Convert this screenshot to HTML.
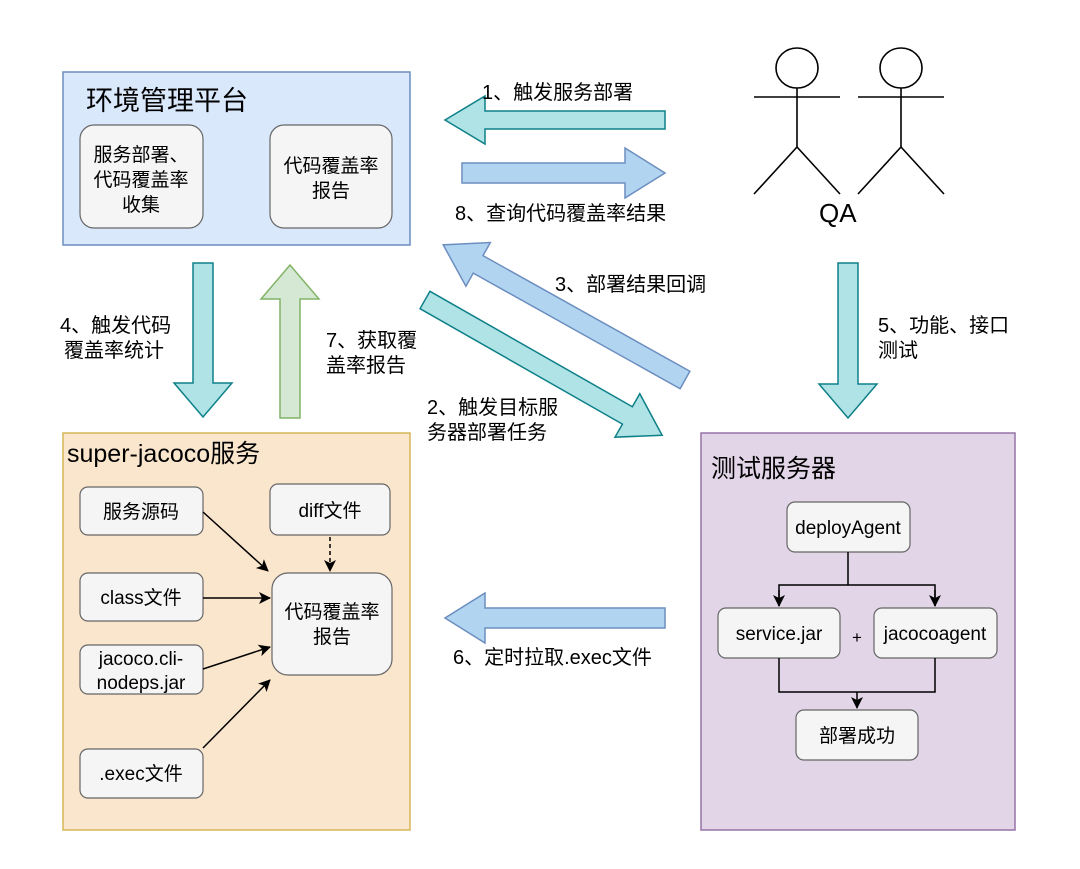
<!DOCTYPE html>
<html><head><meta charset="utf-8"><style>
html,body{margin:0;padding:0;background:#fff;}
svg text{font-family:"Liberation Sans","Noto Sans CJK SC",sans-serif;fill:#000;}
</style></head><body>
<svg width="1080" height="864" viewBox="0 0 1080 864" xmlns="http://www.w3.org/2000/svg">
<defs>
<marker id="ah" markerWidth="12" markerHeight="12" refX="11" refY="6" orient="auto" markerUnits="userSpaceOnUse"><path d="M0,0 L12,6 L0,12 L3,6 z" fill="#000"/></marker>
</defs>
<!-- top box -->
<rect x="63" y="72" width="347" height="173" fill="#dae8fc" stroke="#6c8ebf" stroke-width="1.5"/>
<text x="86" y="110" font-size="27">环境管理平台</text>
<rect x="80" y="125" width="123" height="103" rx="14" fill="#f5f5f5" stroke="#666" stroke-width="1.2"/>
<text font-size="19" text-anchor="middle"><tspan x="141" y="161">服务部署、</tspan><tspan x="141" y="186">代码覆盖率</tspan><tspan x="141" y="211">收集</tspan></text>
<rect x="270" y="125" width="122" height="103" rx="14" fill="#f5f5f5" stroke="#666" stroke-width="1.2"/>
<text font-size="19" text-anchor="middle"><tspan x="331" y="172">代码覆盖率</tspan><tspan x="331" y="197">报告</tspan></text>

<!-- arrows -->
<g stroke-width="1.5" stroke-linejoin="miter">
<g transform="translate(665,120) rotate(180)"><polygon points="0,-9 180,-9 180,-24 220,0 180,24 180,9 0,9" fill="#b0e3e6" stroke="#0e8088"/></g>
<g transform="translate(462,173) rotate(0)"><polygon points="0,-10 163,-10 163,-25 203,0 163,25 163,10 0,10" fill="#b1d5f0" stroke="#6c8ebf"/></g>
<g transform="translate(685,380) rotate(209.2)"><polygon points="0,-10 237,-10 237,-25 277,0 237,25 237,10 0,10" fill="#b1d5f0" stroke="#6c8ebf"/></g>
<g transform="translate(425,300) rotate(29.7)"><polygon points="0,-10 233,-10 233,-25 273,0 233,25 233,10 0,10" fill="#b0e3e6" stroke="#0e8088"/></g>
<g transform="translate(203,263) rotate(90)"><polygon points="0,-10 120,-10 120,-29 154,0 120,29 120,10 0,10" fill="#b0e3e6" stroke="#0e8088"/></g>
<g transform="translate(290,418) rotate(-90)"><polygon points="0,-10 119,-10 119,-29 153,0 119,29 119,10 0,10" fill="#d5e8d4" stroke="#82b366"/></g>
<g transform="translate(848,263) rotate(90)"><polygon points="0,-10 121,-10 121,-29 155,0 121,29 121,10 0,10" fill="#b0e3e6" stroke="#0e8088"/></g>
<g transform="translate(665,618) rotate(180)"><polygon points="0,-10 180,-10 180,-25 220,0 180,25 180,10 0,10" fill="#b1d5f0" stroke="#6c8ebf"/></g>
</g>

<!-- labels -->
<g font-size="20">
<text x="482" y="99">1、触发服务部署</text>
<text x="455" y="220">8、查询代码覆盖率结果</text>
<text x="555" y="291">3、部署结果回调</text>
<text><tspan x="427" y="414">2、触发目标服</tspan><tspan x="427" y="439">务器部署任务</tspan></text>
<text><tspan x="60" y="332">4、触发代码</tspan><tspan x="64" y="357">覆盖率统计</tspan></text>
<text><tspan x="326" y="347">7、获取覆</tspan><tspan x="326" y="372">盖率报告</tspan></text>
<text><tspan x="878" y="332">5、功能、接口</tspan><tspan x="878" y="357">测试</tspan></text>
<text x="453" y="664">6、定时拉取.exec文件</text>
</g>

<!-- QA -->
<g stroke="#000" stroke-width="1.6" fill="none">
<ellipse cx="797" cy="68" rx="21" ry="20" fill="#fff"/>
<line x1="797" y1="88" x2="797" y2="147"/><line x1="754" y1="97" x2="840" y2="97"/>
<line x1="797" y1="147" x2="754" y2="194"/><line x1="797" y1="147" x2="840" y2="194"/>
<ellipse cx="901" cy="68" rx="21" ry="20" fill="#fff"/>
<line x1="901" y1="88" x2="901" y2="147"/><line x1="858" y1="97" x2="944" y2="97"/>
<line x1="901" y1="147" x2="858" y2="194"/><line x1="901" y1="147" x2="944" y2="194"/>
</g>
<text x="819" y="222" font-size="26">QA</text>

<!-- super-jacoco -->
<rect x="63" y="433" width="347" height="397" fill="#fae6cc" stroke="#d6b656" stroke-width="1.5"/>
<text x="67" y="462" font-size="25">super-jacoco服务</text>
<g fill="#f5f5f5" stroke="#666" stroke-width="1.2">
<rect x="80" y="487" width="123" height="48" rx="8"/>
<rect x="270" y="484" width="120" height="51" rx="8"/>
<rect x="80" y="573" width="123" height="48" rx="8"/>
<rect x="80" y="645" width="123" height="49" rx="8"/>
<rect x="80" y="749" width="123" height="49" rx="8"/>
<rect x="272" y="573" width="120" height="102" rx="16"/>
</g>
<g font-size="19" text-anchor="middle">
<text x="141" y="518">服务源码</text>
<text x="330" y="517">diff文件</text>
<text x="141" y="604">class文件</text>
<text><tspan x="141" y="665">jacoco.cli-</tspan><tspan x="141" y="689">nodeps.jar</tspan></text>
<text x="141" y="780">.exec文件</text>
<text><tspan x="332" y="618">代码覆盖率</tspan><tspan x="332" y="643">报告</tspan></text>
</g>
<g stroke="#000" stroke-width="1.5" fill="none">
<line x1="203" y1="512" x2="268" y2="571" marker-end="url(#ah)"/>
<line x1="330" y1="537" x2="330" y2="571" stroke-dasharray="4,3" marker-end="url(#ah)"/>
<line x1="203" y1="598" x2="270" y2="598" marker-end="url(#ah)"/>
<line x1="203" y1="669" x2="270" y2="647" marker-end="url(#ah)"/>
<line x1="203" y1="748" x2="270" y2="680" marker-end="url(#ah)"/>
</g>

<!-- test server -->
<rect x="701" y="433" width="314" height="397" fill="#e1d5e7" stroke="#9673a6" stroke-width="1.5"/>
<text x="711" y="477" font-size="25">测试服务器</text>
<g fill="#f5f5f5" stroke="#666" stroke-width="1.2">
<rect x="787" y="502" width="123" height="50" rx="8"/>
<rect x="718" y="608" width="122" height="50" rx="8"/>
<rect x="874" y="608" width="123" height="50" rx="8"/>
<rect x="796" y="710" width="122" height="50" rx="8"/>
</g>
<g font-size="19" text-anchor="middle">
<text x="848" y="534">deployAgent</text>
<text x="779" y="640">service.jar</text>
<text x="935" y="640">jacocoagent</text>
<text x="857" y="742">部署成功</text>
<text x="857" y="643" font-size="17">+</text>
</g>
<g stroke="#000" stroke-width="1.5" fill="none">
<polyline points="848,552 848,585"/>
<polyline points="779,606 779,585 935,585 935,606"/>
<line x1="779" y1="590" x2="779" y2="606" marker-end="url(#ah)"/>
<line x1="935" y1="590" x2="935" y2="606" marker-end="url(#ah)"/>
<polyline points="779,658 779,692 935,692 935,658"/>
<line x1="857" y1="692" x2="857" y2="708" marker-end="url(#ah)"/>
</g>
</svg>
</body></html>
